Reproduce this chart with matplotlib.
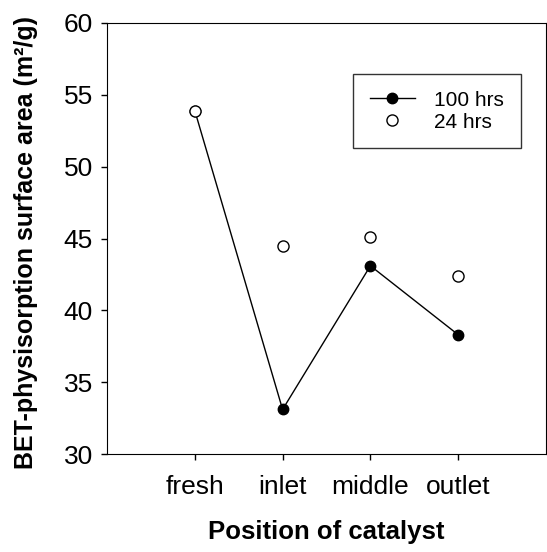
import matplotlib.pyplot as plt

plt.rcParams['font.family'] = ['Liberation Sans', 'DejaVu Sans']

positions = ['fresh', 'inlet', 'middle', 'outlet']
area_100h = [53.9, 33.1, 43.1, 38.3]
area_24h = [53.9, 44.5, 45.1, 42.4]

x = [1, 2, 3, 4]

fig = plt.figure(figsize=(5.47, 5.52), dpi=100)
ax = fig.add_axes([107/547, 1 - 454/552, 439/547, (454 - 23)/552])

ax.plot(x, area_100h, '-', color='black', linewidth=1, marker='o',
        markersize=7.5, markerfacecolor='black', markeredgecolor='black',
        label='100 hrs', zorder=2)
ax.plot(x, area_24h, 'o', markersize=8, markerfacecolor='white',
        markeredgecolor='black', markeredgewidth=1, label='24 hrs', zorder=3)

ax.set_xlim(0, 5)
ax.set_ylim(30, 60)
ax.set_xticks(x)
ax.set_xticklabels(positions)
ax.set_yticks([30, 35, 40, 45, 50, 55, 60])
ax.tick_params(axis='both', direction='out', length=4, width=1,
               labelsize=19, pad=6)
ax.tick_params(axis='x', pad=11)

ax.set_xlabel('Position of catalyst', fontsize=18.5, fontweight='bold', labelpad=15)
ax.set_ylabel('BET-physisorption surface area (m²/g)', fontsize=18,
              fontweight='bold')
ax.yaxis.set_label_coords(-0.157, 0.49)

leg = ax.legend(loc='upper right', bbox_to_anchor=(0.966, 0.906), fontsize=15,
                frameon=True, fancybox=False, edgecolor='black',
                handlelength=2.2, borderpad=0.8, labelspacing=0.15,
                handletextpad=0.9)
leg.get_frame().set_linewidth(1)

fig.savefig('out.png', dpi=100)
